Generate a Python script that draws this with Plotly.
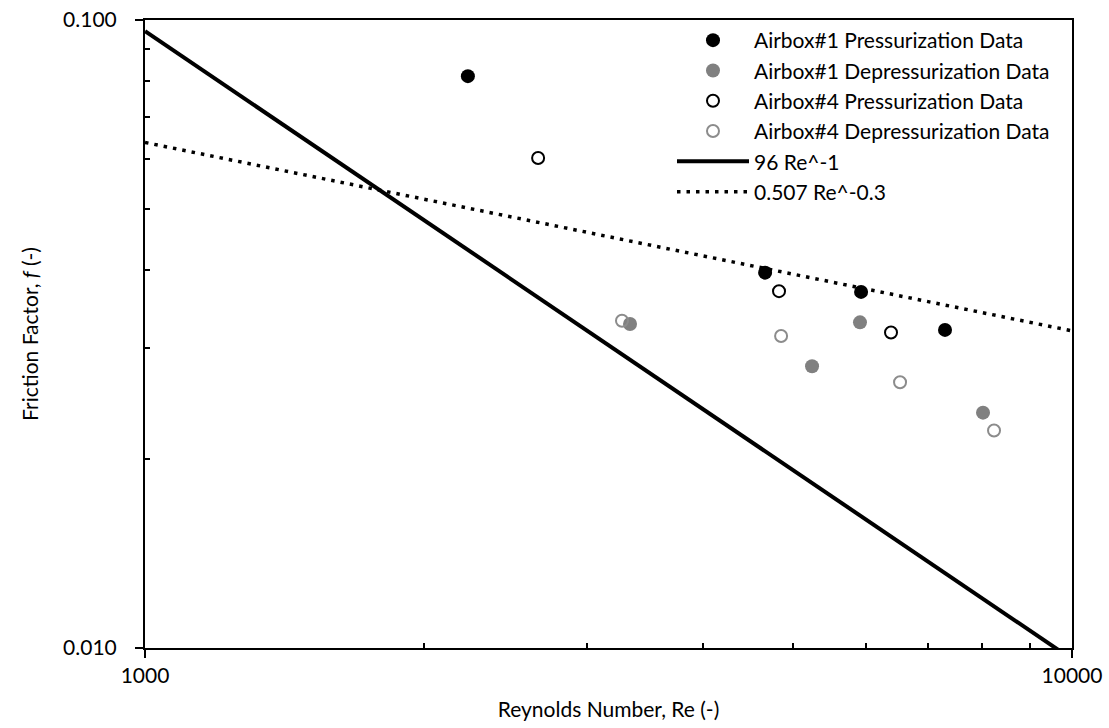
import plotly.graph_objects as go

# Data
a1_press_re = [2230, 4666, 5922, 7295]
a1_press_f = [0.0814, 0.0396, 0.0369, 0.0321]

a1_depress_re = [3336, 5243, 5906, 8017]
a1_depress_f = [0.0328, 0.0281, 0.0330, 0.0237]

a4_press_re = [2655, 4830, 6379]
a4_press_f = [0.0603, 0.0370, 0.0318]

a4_depress_re = [3270, 4855, 6524, 8239]
a4_depress_f = [0.0332, 0.0314, 0.0265, 0.0222]

fit_re = [1000, 2000, 3000, 4000, 5000, 6000, 7000, 8000, 9000, 10000]
laminar_coef, laminar_exp = 96, -1
turb_coef, turb_exp = 0.507, -0.3

x_tickvals = [1000, 10000]
x_ticktext = ["1000", "10000"]
x_minor = [2000, 3000, 4000, 5000, 6000, 7000, 8000, 9000]
y_tickvals = [0.01, 0.1]
y_ticktext = ["0.010", "0.100"]
y_minor = [0.02, 0.03, 0.04, 0.05, 0.06, 0.07, 0.08, 0.09]

laminar_f = [laminar_coef * r ** laminar_exp for r in fit_re]
turb_f = [turb_coef * r ** turb_exp for r in fit_re]

FONT = "Lato"
fig = go.Figure()

fig.add_trace(go.Scatter(x=a1_press_re, y=a1_press_f, mode="markers",
                         name="Airbox#1 Pressurization Data",
                         marker=dict(symbol="circle", size=14, color="black")))
fig.add_trace(go.Scatter(x=a1_depress_re, y=a1_depress_f, mode="markers",
                         name="Airbox#1 Depressurization Data",
                         marker=dict(symbol="circle", size=14, color="#808080")))
fig.add_trace(go.Scatter(x=a4_press_re, y=a4_press_f, mode="markers",
                         name="Airbox#4 Pressurization Data",
                         marker=dict(symbol="circle-open", size=12, color="black",
                                     line=dict(width=2, color="black"))))
fig.add_trace(go.Scatter(x=a4_depress_re, y=a4_depress_f, mode="markers",
                         name="Airbox#4 Depressurization Data",
                         marker=dict(symbol="circle-open", size=12, color="#8c8c8c",
                                     line=dict(width=2, color="#8c8c8c"))))
fig.add_trace(go.Scatter(x=fit_re, y=laminar_f, mode="lines", name="96 Re^-1",
                         line=dict(color="black", width=4)))
fig.add_trace(go.Scatter(x=fit_re, y=turb_f, mode="lines", name="0.507 Re^-0.3",
                         line=dict(color="black", width=3.5, dash="3.5px,6px")))

fig.update_layout(
    width=1109, height=728,
    margin=dict(l=145, r=37, t=20, b=80),
    paper_bgcolor="white", plot_bgcolor="white",
    font=dict(family=FONT, size=21, color="black"),
    showlegend=True,
    legend=dict(x=0.5685, y=1.0, xanchor="left", yanchor="top",
                bgcolor="rgba(0,0,0,0)", font=dict(size=21, family=FONT),
                tracegroupgap=0, itemwidth=72),
)

fig.update_xaxes(
    type="log", range=[3, 4], automargin=False, ticklabeloverflow="allow",
    tickmode="array", tickvals=x_tickvals, ticktext=x_ticktext,
    ticks="outside", ticklen=8, tickwidth=2, tickcolor="black",
    showline=True, linecolor="black", linewidth=2, mirror=True,
    showgrid=False, zeroline=False,
    minor=dict(tickmode="array", tickvals=x_minor,
               ticks="inside", ticklen=5, tickwidth=2, tickcolor="black", showgrid=False),
    title=dict(text="Reynolds Number, Re (-)", font=dict(size=21, family=FONT), standoff=16),
    tickfont=dict(size=21, family=FONT),
)
fig.update_yaxes(
    type="log", range=[-2, -1], automargin=False, ticklabeloverflow="allow",
    tickmode="array", tickvals=y_tickvals, ticktext=y_ticktext,
    ticks="outside", ticklen=8, tickwidth=2, tickcolor="black",
    showline=True, linecolor="black", linewidth=2, mirror=True,
    showgrid=False, zeroline=False,
    ticklabelstandoff=14,
    minor=dict(tickmode="array", tickvals=y_minor,
               ticks="inside", ticklen=5, tickwidth=2, tickcolor="black", showgrid=False),
    title=dict(text="Friction Factor, <i>f</i> (-)", font=dict(size=21, family=FONT), standoff=19),
    tickfont=dict(size=21, family=FONT),
)

fig.write_html("out.html", config={"displayModeBar": False},
               post_script="document.body.style.margin='0';")
